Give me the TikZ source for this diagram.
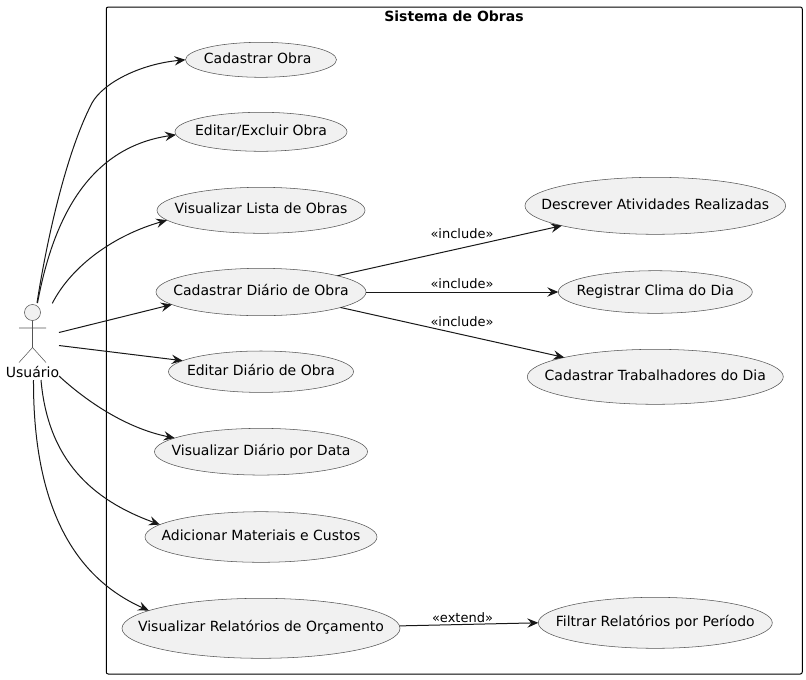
\documentclass[tikz,border=0pt]{standalone}
\usepackage{fontspec}
\setmainfont{DejaVu Sans}
\usetikzlibrary{shapes.geometric,arrows.meta}
\definecolor{ucfill}{HTML}{F1F1F1}
\definecolor{ucline}{HTML}{181818}
\definecolor{ucedge}{HTML}{555555}
\tikzset{
  usecase/.style={ellipse,draw=ucedge,line width=0.4pt,fill=ucfill,inner sep=0pt,outer sep=0pt},
  uctext/.style={font=\fontsize{10.5}{12}\selectfont,inner sep=0pt,text=black,text height=8pt,text depth=2.5pt},
  rel/.style={draw=ucline,line width=0.75pt,-{Stealth[length=8.25pt,width=7pt,inset=3pt]}},
  rellabel/.style={font=\fontsize{9.75}{11}\selectfont,inner sep=0pt,text=black},
  actorline/.style={draw=ucedge,line width=0.4pt}
}
\begin{document}
\begin{tikzpicture}[x=0.75pt,y=-0.75pt]
\useasboundingbox (0,0) rectangle (806,679);
\fill[white] (0,0) rectangle (806,679);
\node[draw=black,line width=0.75pt,rounded corners=1.5pt,minimum width=522pt,minimum height=500.25pt,inner sep=0pt] (frame) at (454.25,340.5) {};
\node[font=\bfseries\fontsize{10.5}{12}\selectfont,inner sep=0pt] (title) at (454,16.5) {Sistema de Obras};

\newcommand{\uc}[7][0pt]{\node[usecase,minimum width=#5*0.75pt,minimum height=#6*0.75pt,label={[uctext,xshift=#1]center:#7}] (#2) at (#3,#4) {};}
\uc[-2.5pt]{cobra}{261}{59.8}{151}{35}{Cadastrar Obra}
\uc{eobra}{261}{131.8}{172}{39}{Editar/Excluir Obra}
\uc{vlista}{261}{210.3}{208}{46}{Visualizar Lista de Obras}
\uc{cdiario}{261}{292}{210}{47.4}{Cadastrar Diário de Obra}
\uc{ediario}{261}{371.7}{185}{41.4}{Editar Diário de Obra}
\uc{vdiario}{261}{451.7}{213}{46.7}{Visualizar Diário por Data}
\uc{mat}{261}{537}{232}{50.6}{Adicionar Materiais e Custos}
\uc{vrel}{261}{628.3}{278}{60}{Visualizar Relatórios de Orçamento}
\uc{desc}{655.3}{205.8}{260.7}{57}{Descrever Atividades Realizadas}
\uc{clima}{655.3}{292}{194}{42.6}{Registrar Clima do Dia}
\uc{trab}{655.3}{376.8}{256}{55}{Cadastrar Trabalhadores do Dia}
\uc{filt}{655.3}{622.8}{234}{51}{Filtrar Relatórios por Período}

% actor
\node[circle,draw=ucedge,line width=0.4pt,fill=ucfill,minimum size=12pt,inner sep=0pt,outer sep=0pt] (head) at (32.5,312.5) {};
\coordinate (hip) at (32.5,347.5);
\coordinate (armL) at (19,328);
\coordinate (armR) at (46,328);
\coordinate (legL) at (19,362.5);
\coordinate (legR) at (46,362.5);
\draw[actorline] (head.south) -- (hip) (armL) -- (armR) (legL) -- (hip) -- (legR);
\node[inner sep=0pt,font=\fontsize{10.5}{12}\selectfont] (user) at (32.5,372) {Usuário};

\coordinate (s1) at (37,303);
\coordinate (s2) at (37.5,303);
\coordinate (s3) at (52.3,303.3);
\coordinate (s4) at (59,332.5);
\coordinate (s5) at (59,345.5);
\coordinate (s6) at (59,376);
\coordinate (s7) at (41,380);
\coordinate (s8) at (33.5,380);
\coordinate (m1) at (92,103);

\draw[rel] (s1) .. controls (46,245) and (65,155) .. (m1) .. controls (103,83) and (140,64) .. (cobra.west);
\draw[rel] (s2) .. controls (52,225) and (85,148) .. (eobra.182);
\draw[rel] (s3) .. controls (72,265) and (115,235) .. (vlista.186.5);
\draw[rel] (s4) -- (cdiario.188.8);
\draw[rel] (s5) -- (ediario.172.9);
\draw[rel] (s6) .. controls (85,400) and (125,428) .. (vdiario.171.9);
\draw[rel] (s7) .. controls (48,460) and (92,500) .. (mat.173.2);
\draw[rel] (s8) .. controls (33,515) and (80,580) .. (vrel.171.3);

\draw[rel] (cdiario.12.1) -- (desc.192.2);
\draw[rel] (cdiario.east) -- (clima.west);
\draw[rel] (cdiario.-11.4) -- (trab.168.5);
\draw[rel] (vrel.1) -- (filt.west);
\node[rellabel] (t1) at (462,233.5) {«include»};
\node[rellabel] (t2) at (462,283.5) {«include»};
\node[rellabel] (t3) at (462,321.5) {«include»};
\node[rellabel] (t4) at (462.5,617.5) {«extend»};
\end{tikzpicture}
\end{document}
